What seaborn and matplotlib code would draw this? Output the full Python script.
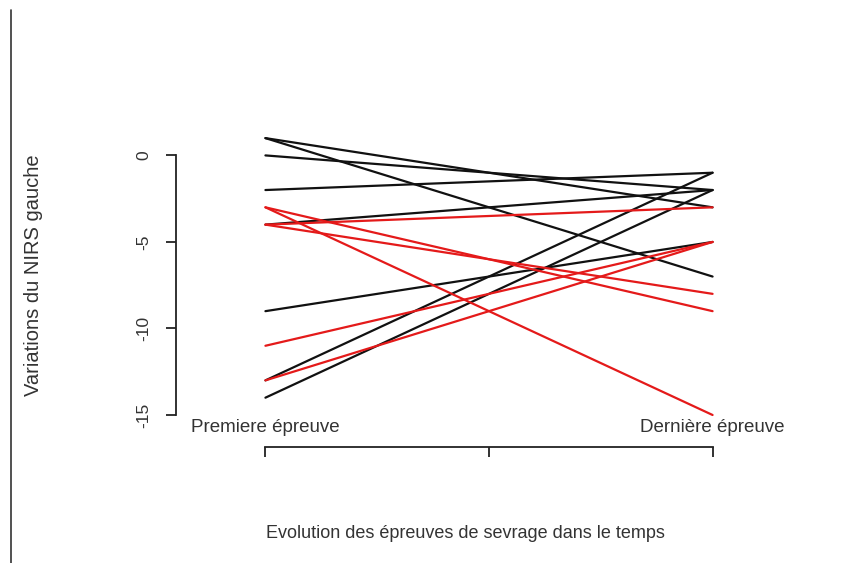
import pandas as pd
import matplotlib.pyplot as plt
import seaborn as sns
from matplotlib.lines import Line2D

sns.set_style("white")
plt.rcParams["font.family"] = ["Liberation Sans", "DejaVu Sans"]

# values at first and last test, one entry per patient
black_start = [1, 1, 0, -2, -4, -9, -13, -14]
black_end = [-7, -3, -2, -1, -2, -5, -1, -2]
red_start = [-3, -3, -4, -4, -11, -13]
red_end = [-15, -9, -8, -3, -5, -5]

y_ticks = [0, -5, -10, -15]
x_ticks = [1, 1.5, 2]
first_label = "Premiere épreuve"
last_label = "Dernière épreuve"

rows = []
for i, (a, b) in enumerate(zip(black_start, black_end)):
    rows.append({"id": f"b{i}", "x": 1, "val": a, "grp": "black"})
    rows.append({"id": f"b{i}", "x": 2, "val": b, "grp": "black"})
for i, (a, b) in enumerate(zip(red_start, red_end)):
    rows.append({"id": f"r{i}", "x": 1, "val": a, "grp": "red"})
    rows.append({"id": f"r{i}", "x": 2, "val": b, "grp": "red"})
df = pd.DataFrame(rows)

fig = plt.figure(figsize=(8.65, 5.63), dpi=100)
ax = fig.add_axes([176 / 865, 1 - 447 / 563, 626 / 865, 321 / 563])

sns.lineplot(data=df, x="x", y="val", units="id", hue="grp", estimator=None,
             palette={"black": "#111111", "red": "#e41a1a"}, linewidth=1.6,
             legend=False, ax=ax)

ax.set_xlim(0.8, 2.2)
ax.set_ylim(-16.85, 1.7)

for s in ["top", "right"]:
    ax.spines[s].set_visible(False)
ax.spines["left"].set_bounds(-15, 0)
ax.spines["bottom"].set_bounds(1, 2)
for s in ["left", "bottom"]:
    ax.spines[s].set_color("#222222")
    ax.spines[s].set_linewidth(1.3)

ax.set_yticks(y_ticks)
ax.set_yticklabels([str(v) for v in y_ticks], rotation=90, va="center")
ax.set_xticks(x_ticks)
ax.set_xticklabels([])
ax.tick_params(axis="both", direction="out", length=7, width=1.3, color="#222222",
               bottom=True, left=True)
ax.tick_params(axis="y", pad=11, labelsize=12.5, labelcolor="#333333")

ax.text(1, -15.75, first_label, ha="center", va="center", fontsize=13.5, color="#333333")
ax.text(2, -15.75, last_label, ha="center", va="center", fontsize=13.5, color="#333333")

ax.set_xlabel("Evolution des épreuves de sevrage dans le temps", fontsize=13,
              color="#333333", va="center")
ax.xaxis.set_label_coords(0.462, -0.268)
ax.set_ylabel("Variations du NIRS gauche", fontsize=14.5, color="#333333", va="center")
ax.yaxis.set_label_coords(-0.228, 0.536)

# left border line from the screenshot
fig.add_artist(Line2D([11 / 865, 11 / 865], [0, 1 - 10 / 563], color="#333333", linewidth=1.2))

fig.savefig("out.png", dpi=100)
